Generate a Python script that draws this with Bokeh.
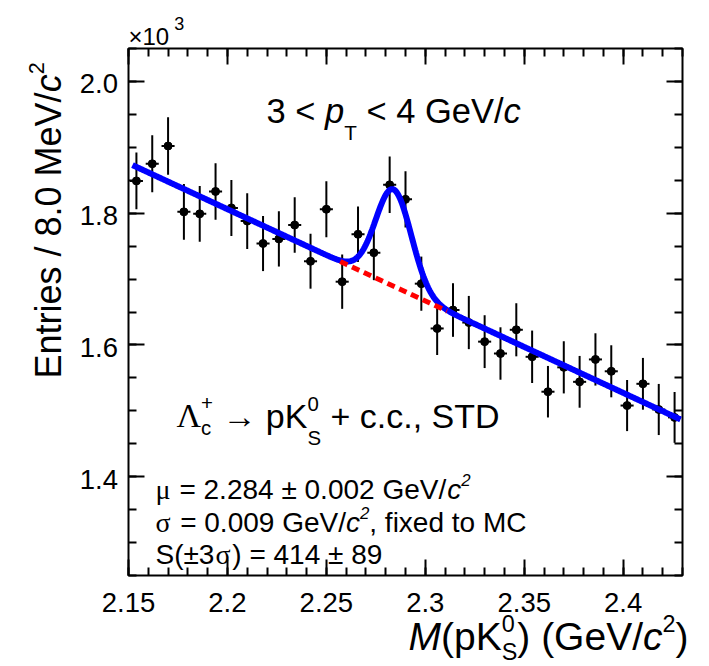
import math
import numpy as np
from bokeh.plotting import figure
from bokeh.models import Range1d, LinearAxis, FixedTicker, ColumnDataSource, CustomJSTickFormatter
from bokeh.core.properties import value
from bokeh.embed import file_html
from bokeh.resources import INLINE

# ---------------- data (x10^3 entries per 8 MeV/c^2 bin) ----------------
mass = [2.154, 2.162, 2.170, 2.178, 2.186, 2.194, 2.202, 2.210, 2.218, 2.226,
        2.234, 2.242, 2.250, 2.258, 2.266, 2.274, 2.282, 2.290, 2.298, 2.306,
        2.314, 2.322, 2.330, 2.338, 2.346, 2.354, 2.362, 2.370, 2.378, 2.386,
        2.394, 2.402, 2.410, 2.418, 2.426]
entries = [1.849, 1.875, 1.902, 1.802, 1.799, 1.833, 1.808, 1.788, 1.754, 1.761,
           1.782, 1.727, 1.806, 1.696, 1.768, 1.740, 1.843, 1.821, 1.693, 1.625,
           1.653, 1.634, 1.605, 1.587, 1.623, 1.582, 1.529, 1.566, 1.544, 1.578,
           1.560, 1.508, 1.541, 1.502, 1.490]
errors = [0.0430, 0.0433, 0.0436, 0.0424, 0.0424, 0.0428, 0.0425, 0.0423, 0.0419, 0.0420,
          0.0422, 0.0416, 0.0425, 0.0412, 0.0420, 0.0417, 0.0429, 0.0427, 0.0411, 0.0403,
          0.0407, 0.0404, 0.0401, 0.0398, 0.0403, 0.0398, 0.0391, 0.0396, 0.0393, 0.0397,
          0.0395, 0.0388, 0.0393, 0.0388, 0.0386]
bar_half = 0.0033

# fit parameters (Gaussian + linear background)
fit_mu = 2.284
fit_sigma = 0.009
fit_amp = 0.147
bg_ref_x = 2.152
bg_ref_y = 1.873
bg_slope = -1.394
fit_lo, fit_hi = 2.152, 2.429

x_min, x_max = 2.15, 2.43
y_min, y_max = 1.25, 2.05
x_ticks = [2.15, 2.2, 2.25, 2.3, 2.35, 2.4]
x_tick_labels = ["2.15", "2.2", "2.25", "2.3", "2.35", "2.4"]
y_ticks = [1.4, 1.6, 1.8, 2.0]
y_tick_labels = ["1.4", "1.6", "1.8", "2.0"]

# ---------------- geometry (pixels) ----------------
CW, CH = 709, 666
BL, BR, BT, BB = 128, 682, 48, 575          # data box edges
SX = (BR - BL) / (x_max - x_min)
SY = (BB - BT) / (y_max - y_min)
X0, X1 = x_min - BL / SX, x_max + (CW - BR) / SX
Y0, Y1 = y_min - (CH - BB) / SY, y_max + BT / SY
BASE_FIX = 0.29   # rendered alphabetic baseline sits ~0.29 em lower than requested

def px2d(px, py):
    return X0 + px / SX, Y1 - py / SY

p = figure(frame_width=CW, frame_height=CH, x_range=Range1d(X0, X1), y_range=Range1d(Y0, Y1),
           output_backend="svg", toolbar_location=None, min_border=0, title=None,
           x_axis_location=None, y_axis_location=None)
p.grid.visible = False
p.outline_line_color = None
p.background_fill_color = "white"
p.border_fill_color = "white"

x_minor = [round(x_min + 0.01 * k, 3) for k in range(29)]
y_minor = [round(y_min + 0.05 * k, 3) for k in range(17)]

def add_axis(side, ticks, minor, loc, inward):
    # all axes live in the left/below panels and are drawn at a fixed data location
    kw = dict(major_tick_in=16, major_tick_out=0, minor_tick_in=8, minor_tick_out=0) if inward else \
         dict(major_tick_in=0, major_tick_out=16, minor_tick_in=0, minor_tick_out=8)
    ax = LinearAxis(fixed_location=loc, ticker=FixedTicker(ticks=ticks, minor_ticks=minor),
                    formatter=CustomJSTickFormatter(code="return ''"),
                    major_label_text_font_size="0px", major_label_standoff=0,
                    axis_line_color=None,
                    major_tick_line_width=2, minor_tick_line_width=2,
                    major_tick_line_color="black", minor_tick_line_color="black", **kw)
    p.add_layout(ax, side)

add_axis("below", x_ticks, x_minor, y_min, True)    # bottom edge, ticks pointing up
add_axis("below", x_ticks, x_minor, y_max, False)   # top edge, ticks pointing down
add_axis("left", y_ticks, y_minor, x_min, True)     # left edge, ticks pointing right
add_axis("left", y_ticks, y_minor, x_max, False)    # right edge, ticks pointing left

# data box (frame)
p.quad(left=[x_min], right=[x_max], bottom=[y_min], top=[y_max],
       fill_color=None, line_color="black", line_width=2)

# tick labels
TICK_FS = 27.5
for t, lab in zip(x_ticks, x_tick_labels):
    p.text(x=[t], y=[px2d(0, 609.5 - BASE_FIX * TICK_FS)[1]], text=[lab], text_font=value("Liberation Sans"),
           text_font_size=f"{TICK_FS}px", text_align="center", text_baseline="alphabetic", text_color="black")
for t, lab in zip(y_ticks, y_tick_labels):
    p.text(x=[px2d(117.5, 0)[0]], y=[t - (10.4 - BASE_FIX * TICK_FS) / SY], text=[lab],
           text_font=value("Liberation Sans"),
           text_font_size=f"{TICK_FS}px", text_align="right", text_baseline="alphabetic", text_color="black")

# ---------------- data points ----------------
src = ColumnDataSource(dict(
    x=mass, y=entries,
    lo=[v - e for v, e in zip(entries, errors)],
    hi=[v + e for v, e in zip(entries, errors)],
    xl=[m - bar_half for m in mass],
    xr=[m + bar_half for m in mass]))
p.segment(x0="x", y0="lo", x1="x", y1="hi", source=src, line_color="black", line_width=2)
p.segment(x0="xl", y0="y", x1="xr", y1="y", source=src, line_color="black", line_width=2)
p.scatter("x", "y", source=src, size=8, color="black")

# ---------------- fit curves ----------------
xs = np.linspace(fit_lo, fit_hi, 600)
bg = bg_ref_y + bg_slope * (xs - bg_ref_x)
total = bg + fit_amp * np.exp(-0.5 * ((xs - fit_mu) / fit_sigma) ** 2)
p.line(xs, total, line_color="#0000ff", line_width=6)
xb = np.linspace(fit_mu - 3 * fit_sigma, fit_mu + 3 * fit_sigma, 100)
p.line(xb, bg_ref_y + bg_slope * (xb - bg_ref_x), line_color="#ff0000", line_width=5, line_dash="8 5")

# ---------------- rich text helper ----------------
SANS = {' ': 278, '(': 333, ')': 333, '+': 584, ',': 278, '-': 333, '.': 278, '/': 278,
        '<': 584, '=': 584, '>': 584, '±': 584, '×': 584, '→': 1000,
        'A': 667, 'C': 722, 'D': 722, 'E': 667, 'G': 778, 'K': 667, 'M': 833, 'S': 667,
        'T': 611, 'V': 667, 'a': 556, 'c': 500, 'd': 556, 'e': 556, 'f': 278, 'i': 222,
        'n': 556, 'o': 556, 'p': 556, 'r': 333, 's': 500, 't': 278, 'x': 500}
SERIF = {'Λ': 722, 'μ': 576, 'σ': 603}

def tw(t, size, serif):
    tab = SERIF if serif else SANS
    return sum(tab.get(ch, 556) for ch in t) / 1000.0 * size

def rich(x0, y0, f, segs, rot=False, align="left"):
    # segs: (text, rel_size, rel_raise, italic, serif, advance); x0,y0 = baseline start (px)
    tot = sum(tw(s[0], f * s[1], s[4]) for s in segs if s[5])
    if align == "right":
        if rot:
            y0 += tot
        else:
            x0 -= tot
    pos = 0.0
    for (t, rs, up, it, serif, adv) in segs:
        size = f * rs
        lead = len(t) - len(t.lstrip(" "))
        core = t.strip(" ")
        off = pos + tw(" " * lead, size, serif)
        lift = up * f + BASE_FIX * size
        if rot:
            cx, cy = x0 - lift, y0 - off
        else:
            cx, cy = x0 + off, y0 - lift
        if core:
            xd, yd = px2d(cx, cy)
            p.text(x=[xd], y=[yd], text=[core],
                   text_font=value("Liberation Serif" if serif else "Liberation Sans"),
                   text_font_size=f"{size:.1f}px",
                   text_font_style="italic" if it else "normal",
                   text_color="black", text_align="left", text_baseline="alphabetic",
                   angle=math.pi / 2 if rot else 0.0)
        if adv:
            pos += tw(t, size, serif)

N, I = False, True
# x10^3
rich(128, 42.7, 24, [("×10", 1, 0, N, N, I), (" 3", 0.75, 0.6, N, N, I)])
# pT range
rich(266, 120.5, 34.5, [("3 < ", 1, 0, N, N, I), ("p", 1, 0, I, N, I), ("T", 0.6, -0.5, N, N, I),
                        (" < 4 GeV/", 1, 0, N, N, I), ("c", 1, 0, I, N, I)])
# decay channel
rich(176, 425, 34, [("Λ", 1, 0, N, I, I), ("c", 0.6, -0.25, N, N, N), ("+", 0.6, 0.5, N, N, I),
                    (" → ", 1, 0, N, N, I), ("pK", 1, 0, N, N, I), ("0", 0.6, 0.45, N, N, N),
                    ("S", 0.6, -0.55, N, N, I), (" + c.c., STD", 1, 0, N, N, I)])
# fit results
rich(155, 497, 28, [("μ", 1, 0, N, I, I), (" = 2.284 ± 0.002 GeV/", 1, 0, N, N, I),
                    ("c", 1, 0, I, N, I), ("2", 0.6, 0.45, I, N, I)])
rich(155, 530, 28, [("σ", 1, 0, N, I, I), (" = 0.009 GeV/", 1, 0, N, N, I),
                    ("c", 1, 0, I, N, I), ("2", 0.6, 0.45, I, N, I), (", fixed to MC", 1, 0, N, N, I)])
rich(155, 562, 28, [("S(±3", 1, 0, N, N, I), ("σ", 1, 0, N, I, I), (") = 414 ± 89", 1, 0, N, N, I)])
# y axis title (rotated, reading upwards)
rich(58.5, 378, 36, [("Entries / 8.0 MeV/", 1, 0, N, N, I), ("c", 1, 0, I, N, I),
                     ("2", 0.6, 0.45, N, N, I)], rot=True)
# x axis title (right aligned)
rich(688, 647, 39, [("M", 1, 0, I, N, I), ("(pK", 1, 0, N, N, I), ("0", 0.6, 0.45, N, N, N),
                    ("S", 0.6, -0.28, N, N, I), (") (GeV/", 1, 0, N, N, I), ("c", 1, 0, I, N, I),
                    ("2", 0.6, 0.45, N, N, I), (")", 1, 0, N, N, I)], align="right")

open("out.html", "w").write(file_html(p, INLINE))
